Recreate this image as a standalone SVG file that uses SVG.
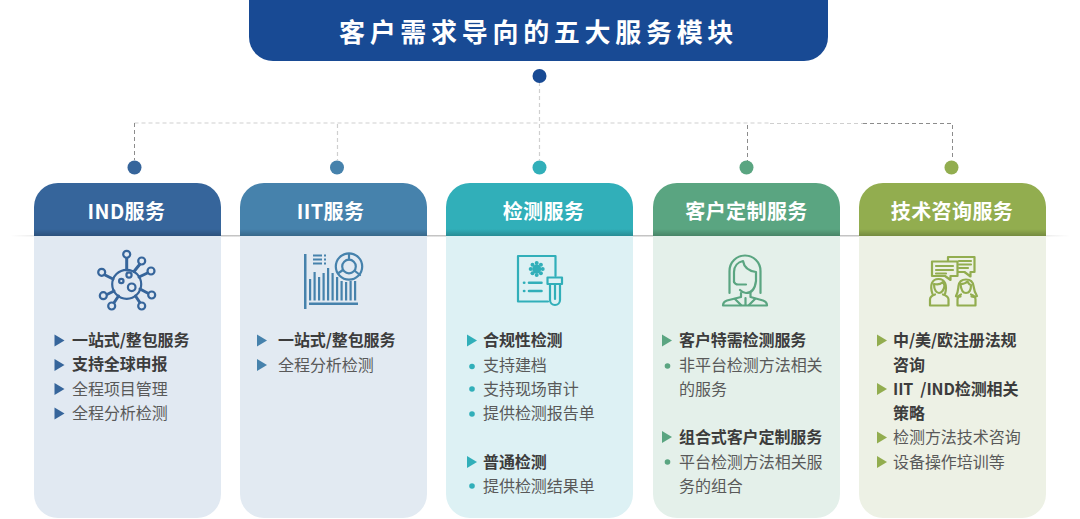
<svg xmlns="http://www.w3.org/2000/svg" width="1080" height="519" viewBox="0 0 1080 519">
<defs>
<linearGradient id="hline" x1="0" x2="1" y1="0" y2="0"><stop offset="0" stop-color="#bbb" stop-opacity="0"/><stop offset="0.08" stop-color="#c4c4c4"/><stop offset="0.92" stop-color="#c4c4c4"/><stop offset="1" stop-color="#bbb" stop-opacity="0"/></linearGradient>
<linearGradient id="shade" x1="0" x2="0" y1="0" y2="1"><stop offset="0" stop-color="#000" stop-opacity="0"/><stop offset="1" stop-color="#000" stop-opacity="0.2"/></linearGradient>
<path id="tri" d="M0-6L10 0L0 6Z"/>
</defs>
<style>
text{font-family:"Noto Sans CJK SC","Noto Sans",sans-serif}
.t{font-size:26px;font-weight:700;fill:#fff;letter-spacing:4.7px;text-anchor:middle}
.h{font-size:20px;font-weight:700;fill:#fff;letter-spacing:.4px;text-anchor:middle}
.b{font-size:16px;font-weight:700;fill:#3c3c3c;letter-spacing:-.1px}
.n{font-size:16px;fill:#595959;letter-spacing:-.05px}
.d{fill:none;stroke:#cfcfcf;stroke-width:1.200;stroke-dasharray:4 3}
.g{fill:none;stroke:#8c8c8c;stroke-width:1;stroke-dasharray:4 3}
.ic{fill:none;stroke-width:2.200;stroke-linecap:round;stroke-linejoin:round}
</style>
<rect x="10" y="235" width="1060" height="1.500" fill="url(#hline)"/>
<g id="connectors">
<path class="d" d="M539.500 82V160"/>
<path class="d" d="M134.500 123H770"/>
<path class="g" d="M134.500 123V160"/>
<path class="d" d="M337.500 124V160"/>
<path class="d" d="M770 123.500H863"/>
<path class="g" d="M863 123.500H952.500V160"/>
<path class="g" d="M747.500 125V162"/>
</g>
<g id="title">
<path d="M249 0H828V37a24 24 0 0 1-24 24H273a24 24 0 0 1-24-24Z" fill="#184a94"/>
<text class="t" x="538.500" y="41.500">客户需求导向的五大服务模块</text>
<circle cx="539.500" cy="76" r="7" fill="#184a94"/>
</g>
<g id="dots">
<circle cx="134.500" cy="167.500" r="7" fill="#36659b"/>
<circle cx="337" cy="167.500" r="7" fill="#4682ac"/>
<circle cx="539.500" cy="167.500" r="7" fill="#31afb9"/>
<circle cx="746.500" cy="167.500" r="7" fill="#5aa581"/>
<circle cx="951.500" cy="167.500" r="7" fill="#92ad4f"/>
</g>
<g id="node-ind">
<path d="M34 236H221V494a24 24 0 0 1-24 24H58a24 24 0 0 1-24-24Z" fill="#e1e9f2"/>
<path d="M34 236V207a24 24 0 0 1 24-24H197a24 24 0 0 1 24 24V236Z" fill="#36659b"/>
<rect x="34" y="229" width="187" height="7" fill="url(#shade)"/>
<text class="h" x="126.500" y="218.500">IND服务</text>
<g class="ic" stroke="#36659b">
<circle cx="126.700" cy="284.300" r="14.500"/><circle cx="129" cy="275" r="2.600"/><circle cx="121.300" cy="281" r="2.200"/><circle cx="131.700" cy="287.300" r="3.800"/>
<path d="M126.700 270V258M134 271.500L140 264M139 277L148.500 272.500M113 279L105 275M114 291L106 295M118.500 296L113.500 303.500M135.500 296L140.500 303.500M140 289L148.500 293.500" stroke-width="3"/>
<circle cx="126.700" cy="254.300" r="3.500" fill="#e1e9f2"/><circle cx="141.700" cy="261" r="3.500" fill="#e1e9f2"/><circle cx="151" cy="271" r="3.500" fill="#e1e9f2"/><circle cx="101.700" cy="272.300" r="3.500" fill="#e1e9f2"/><circle cx="103.300" cy="295.700" r="3.500" fill="#e1e9f2"/><circle cx="111.700" cy="306" r="3.500" fill="#e1e9f2"/><circle cx="141.700" cy="306" r="3.500" fill="#e1e9f2"/><circle cx="151.700" cy="295" r="3.500" fill="#e1e9f2"/>
</g>
<use href="#tri" x="54.500" y="340.500" fill="#36659b"/><use href="#tri" x="54.500" y="365" fill="#36659b"/><use href="#tri" x="54.500" y="389" fill="#36659b"/><use href="#tri" x="54.500" y="413.500" fill="#36659b"/>
<text class="b" x="72" y="346">一站式/整包服务</text>
<text class="b" x="72" y="370">支持全球申报</text>
<text class="n" x="72" y="394.500">全程项目管理</text>
<text class="n" x="72" y="419">全程分析检测</text>
</g>
<g id="node-iit">
<path d="M240 236H427V494a24 24 0 0 1-24 24H264a24 24 0 0 1-24-24Z" fill="#e2eaf2"/>
<path d="M240 236V207a24 24 0 0 1 24-24H403a24 24 0 0 1 24 24V236Z" fill="#4682ac"/>
<rect x="240" y="229" width="187" height="7" fill="url(#shade)"/>
<text class="h" x="330.500" y="218.500">IIT服务</text>
<g fill="#4682ac">
<rect x="304" y="254" width="2.500" height="55"/><rect x="309" y="302.500" width="49" height="2.500"/>
<rect x="313" y="254.500" width="9" height="2"/><rect x="313" y="258.500" width="9" height="2"/><rect x="313" y="262.500" width="9" height="2"/><rect x="324" y="254.500" width="2" height="2"/><rect x="324" y="258.500" width="2" height="2"/><rect x="324" y="262.500" width="2" height="2"/>
<rect x="309" y="279" width="2.200" height="21.500"/><rect x="313.500" y="272" width="2.200" height="28.500"/><rect x="318" y="277" width="2.200" height="23.500"/><rect x="322.500" y="273" width="2.200" height="27.500"/><rect x="327" y="268" width="2.200" height="32.500"/><rect x="331.500" y="273" width="2.200" height="27.500"/><rect x="336" y="277" width="2.200" height="23.500"/><rect x="340.500" y="281" width="2.200" height="19.500"/><rect x="345" y="282" width="2.200" height="18.500"/><rect x="349.500" y="281" width="2.200" height="19.500"/><rect x="354" y="281" width="2.200" height="19.500"/>
</g>
<g class="ic" stroke="#4682ac" stroke-width="2.500"><circle cx="349" cy="266.500" r="13.200" fill="#e2eaf2"/><circle cx="349" cy="266.500" r="6.800"/><path d="M349 254V259.500M355 271L360 275M338.500 273L343 270"/></g>
<use href="#tri" x="257" y="340.500" fill="#4682ac"/><use href="#tri" x="257" y="365" fill="#4682ac"/>
<text class="b" x="278" y="346">一站式/整包服务</text>
<text class="n" x="278" y="370.500">全程分析检测</text>
</g>
<g id="node-test">
<path d="M446 236H633V494a24 24 0 0 1-24 24H470a24 24 0 0 1-24-24Z" fill="#ddf1f4"/>
<path d="M446 236V207a24 24 0 0 1 24-24H609a24 24 0 0 1 24 24V236Z" fill="#31afb9"/>
<rect x="446" y="229" width="187" height="7" fill="url(#shade)"/>
<text class="h" x="543.500" y="218.500">检测服务</text>
<g class="ic" stroke="#31afb9" stroke-width="2.400">
<path d="M548 301.500H518V256H555.500V276"/>
<path d="M547.500 277.500H562V284H547.500ZM550 284V300a5 5 0 0 0 10 0V284"/>
<path d="M555 285V299"/>
<path d="M529 282.700H541.500M529 291H541.500" stroke-width="2.600"/>
<path d="M524 282.700H524.300M524 291H524.300" stroke-width="2.600"/>
</g>
<g fill="#31afb9"><circle cx="536.700" cy="269" r="4.500"/><circle cx="536.700" cy="263" r="2"/><circle cx="536.700" cy="275" r="2"/><circle cx="530.700" cy="269" r="2"/><circle cx="542.700" cy="269" r="2"/><circle cx="532.500" cy="264.800" r="2"/><circle cx="540.900" cy="264.800" r="2"/><circle cx="532.500" cy="273.200" r="2"/><circle cx="540.900" cy="273.200" r="2"/></g>
<use href="#tri" x="467" y="340.500" fill="#31afb9"/><use href="#tri" x="467" y="462" fill="#31afb9"/>
<g fill="#31afb9"><circle cx="472" cy="366.500" r="2.800"/><circle cx="472" cy="389" r="2.800"/><circle cx="472" cy="414" r="2.800"/><circle cx="472" cy="486" r="2.800"/></g>
<text class="b" x="483" y="346">合规性检测</text>
<text class="n" x="483" y="370.500">支持建档</text>
<text class="n" x="483" y="395">支持现场审计</text>
<text class="n" x="483" y="419">提供检测报告单</text>
<text class="b" x="483" y="467.500">普通检测</text>
<text class="n" x="483" y="491.500">提供检测结果单</text>
</g>
<g id="node-custom">
<path d="M653 236H840V494a24 24 0 0 1-24 24H677a24 24 0 0 1-24-24Z" fill="#e4f0ea"/>
<path d="M653 236V207a24 24 0 0 1 24-24H816a24 24 0 0 1 24 24V236Z" fill="#5aa581"/>
<rect x="653" y="229" width="187" height="7" fill="url(#shade)"/>
<text class="h" x="746.500" y="218.500">客户定制服务</text>
<g class="ic" stroke="#5aa581" stroke-width="2.400">
<path d="M729.500 293V271a15.500 15.500 0 0 1 31 0V293"/>
<path d="M734 282V272C734 266 738 262 743 261C744 267 749 271 756 272V281C755 289 751 293 746 293C744 293 742 292 740 290"/>
<path d="M734 282C735 284 736 284.500 738 284.500H746"/>
<path d="M741 293V297L727 300.500C724 301.500 723 303 723 305.500H767C767 303 766 301.500 763 300.500L750.500 297V293"/>
<path d="M735 299L741 305M755 299L749 305M745.500 298V305"/>
</g>
<use href="#tri" x="662" y="340.500" fill="#5aa581"/><use href="#tri" x="662" y="437" fill="#5aa581"/>
<g fill="#5aa581"><circle cx="667.500" cy="366" r="2.800"/><circle cx="667.500" cy="462" r="2.800"/></g>
<text class="b" x="679" y="346">客户特需检测服务</text>
<text class="n" x="679" y="370.500">非平台检测方法相关</text>
<text class="n" x="679" y="395">的服务</text>
<text class="b" x="679" y="443">组合式客户定制服务</text>
<text class="n" x="679" y="467.500">平台检测方法相关服</text>
<text class="n" x="679" y="491.500">务的组合</text>
</g>
<g id="node-consult">
<path d="M859 236H1046V494a24 24 0 0 1-24 24H883a24 24 0 0 1-24-24Z" fill="#edf1e5"/>
<path d="M859 236V207a24 24 0 0 1 24-24H1022a24 24 0 0 1 24 24V236Z" fill="#92ad4f"/>
<rect x="859" y="229" width="187" height="7" fill="url(#shade)"/>
<text class="h" x="952" y="218.500">技术咨询服务</text>
<g class="ic" stroke="#92ad4f" stroke-width="1.800">
<path d="M948 261V257H974.500V272H970.500V276.500L964.500 272H957"/>
<path d="M932 261.500H957.500V276H950.500V280L945 276H932Z" fill="#edf1e5"/>
<path d="M936 266H953M936 270H953M936 273.500H946M959 261H971M959 264.500H971M959 268H968"/>
<path d="M932.500 294C929.500 285 932 279 938.500 279C945 279 947.500 285 945 294"/>
<path d="M934 284C938 285 941 284 943 282C944 284 944.500 285 944.500 286C944 290 941.500 293 939 293C936.500 293 934 290 934 284Z"/>
<path d="M935 294.500C932 295.500 930 297 930 299.500V305.500H948.500V299.500C948.500 297 946 295.500 943 294.500"/>
<path d="M956 296C958 293 958 290 958.500 286C959 282 962 279.500 966 279.500C970 279.500 973 282 973.500 286C974 290 975 293 977 296C975 297 973 297 971.500 296.500"/>
<path d="M960.500 284C963 284 966 283 967.500 281.500C968.500 283.500 970 285 971 285C971 290 969 293 966 293C963 293 961 290 960.500 284Z"/>
<path d="M961 294.500C958.500 295.500 957.500 297 957.500 299.500V305.500H975.500V299.500C975.500 297 974 295.500 971 294.500M956 296C957.500 297 959 297 960.500 296.500"/>
</g>
<use href="#tri" x="877" y="340.500" fill="#92ad4f"/><use href="#tri" x="877" y="389" fill="#92ad4f"/><use href="#tri" x="877" y="437.500" fill="#92ad4f"/><use href="#tri" x="877" y="462" fill="#92ad4f"/>
<text class="b" x="893" y="346">中/美/欧注册法规</text>
<text class="b" x="893" y="370.500">咨询</text>
<text class="b" x="893" y="395" xml:space="preserve">IIT  /IND检测相关</text>
<text class="b" x="893" y="419">策略</text>
<text class="n" x="893" y="443">检测方法技术咨询</text>
<text class="n" x="893" y="467.500">设备操作培训等</text>
</g>
</svg>
